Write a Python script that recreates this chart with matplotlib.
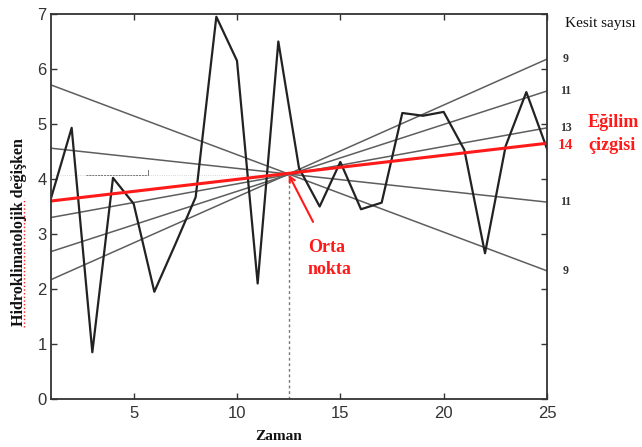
import matplotlib.pyplot as plt

# zaman serisi
zaman = list(range(1, 26))
deger = [3.65, 4.93, 0.85, 4.02, 3.55, 1.95, 2.8, 3.67, 6.95, 6.15, 2.1, 6.5,
         4.2, 3.5, 4.31, 3.45, 3.57, 5.2, 5.15, 5.22, 4.53, 2.65, 4.6, 5.58, 4.55]

# orta nokta
orta_x = 12.5
orta_y = 4.08

# kesit dogrulari (sol uc x=1, sag uc x=25)
kesit_sol = [5.71, 4.56, 3.30, 2.68, 2.17]
kesit_sag = [2.33, 3.58, 4.93, 5.60, 6.18]
kesit_etiket = ['9', '11', '13', '11', '9']

# egilim cizgisi
egilim_sol = 3.60
egilim_sag = 4.65
egilim_etiket = '14'

serif = 'Liberation Serif'
sans = 'Liberation Sans'

fig = plt.figure(figsize=(6.42, 4.47), dpi=100)
ax = fig.add_axes([51/642, 1-399/447, (547-51)/642, (399-14)/447])

x0, x1 = zaman[0], zaman[-1]

# yatay noktali cizgi (orta nokta seviyesi)
ax.plot([x0, orta_x], [orta_y, orta_y], color='#c8c8c8', lw=0.6, ls=':')
ax.plot([2.7, 5.7], [orta_y, orta_y], color='#777777', lw=0.7, ls=(0, (2, 1)))
ax.plot([5.7, 5.7], [orta_y, orta_y + 0.08], color='#777777', lw=0.7)

# dikey kesikli cizgi
ax.plot([orta_x, orta_x], [0, orta_y], color='#777777', lw=1.0, ls=(0, (2, 2)))

for s, e in zip(kesit_sol, kesit_sag):
    ax.plot([x0, x1], [s, e], color='#5e5e5e', lw=1.1)

ax.plot(zaman, deger, color='#222222', lw=1.6)
ax.plot([x0, x1], [egilim_sol, egilim_sag], color='#ff1a1a', lw=2.2)

ax.set_xlim(x0, x1)
ax.set_ylim(0, 7)
ax.set_xticks([5, 10, 15, 20, 25])
ax.set_yticks(range(0, 8))

for sp in ax.spines.values():
    sp.set_color('#333333')
    sp.set_linewidth(1.3)
ax.tick_params(direction='in', length=4, width=1, color='#333333',
               top=True, right=True, labelsize=12, labelcolor='#333333')
ax.tick_params(axis='x', pad=5)
ax.tick_params(axis='y', pad=3)
for lab in ax.get_xticklabels() + ax.get_yticklabels():
    lab.set_fontfamily(sans)

# sag taraftaki kesit sayilari
for e, t in zip(kesit_sag, kesit_etiket):
    ax.text(25.9, e, t, ha='center', va='center', fontsize=8.5,
            fontweight='bold', family=serif, color='#333333', clip_on=False)
ax.text(25.9, egilim_sag - 0.04, egilim_etiket, ha='center', va='center',
        fontsize=11, fontweight='bold', family=serif, color='#ff1a1a', clip_on=False)
ax.text(25.85, 6.82, 'Kesit sayısı', ha='left', va='center', fontsize=11,
        family=serif, color='#111111', clip_on=False)
ax.text(26.98, 4.82, 'Eğilim\nçizgisi', ha='left', va='center', fontsize=13,
        fontweight='bold', family=serif, color='#ff1a1a', linespacing=1.45,
        clip_on=False)

# orta nokta oku
ax.annotate('', xy=(orta_x, orta_y), xytext=(13.68, 3.22),
            arrowprops=dict(arrowstyle='->', color='#ff1a1a', lw=1.5,
                            shrinkA=0, shrinkB=0))
ax.text(13.43, 2.55, 'Orta\nnokta', ha='left', va='center', fontsize=13,
        fontweight='bold', family=serif, color='#ff1a1a', linespacing=1.4)

fig.text(279/642, 1-436/447, 'Zaman', ha='center', va='center', fontsize=11,
         fontweight='bold', family=serif, color='#111111')
fig.text(19/642, 1-232/447, 'Hidroklimatolojik değişken', rotation=90,
         ha='center', va='center', fontsize=11.5, fontweight='bold',
         family=serif, color='#111111')
fig.add_artist(plt.Line2D([24/642, 24/642], [1-327/447, 1-198/447],
                          color='#ff2020', lw=1.0, ls=':'))

fig.savefig('out.png', dpi=100)
